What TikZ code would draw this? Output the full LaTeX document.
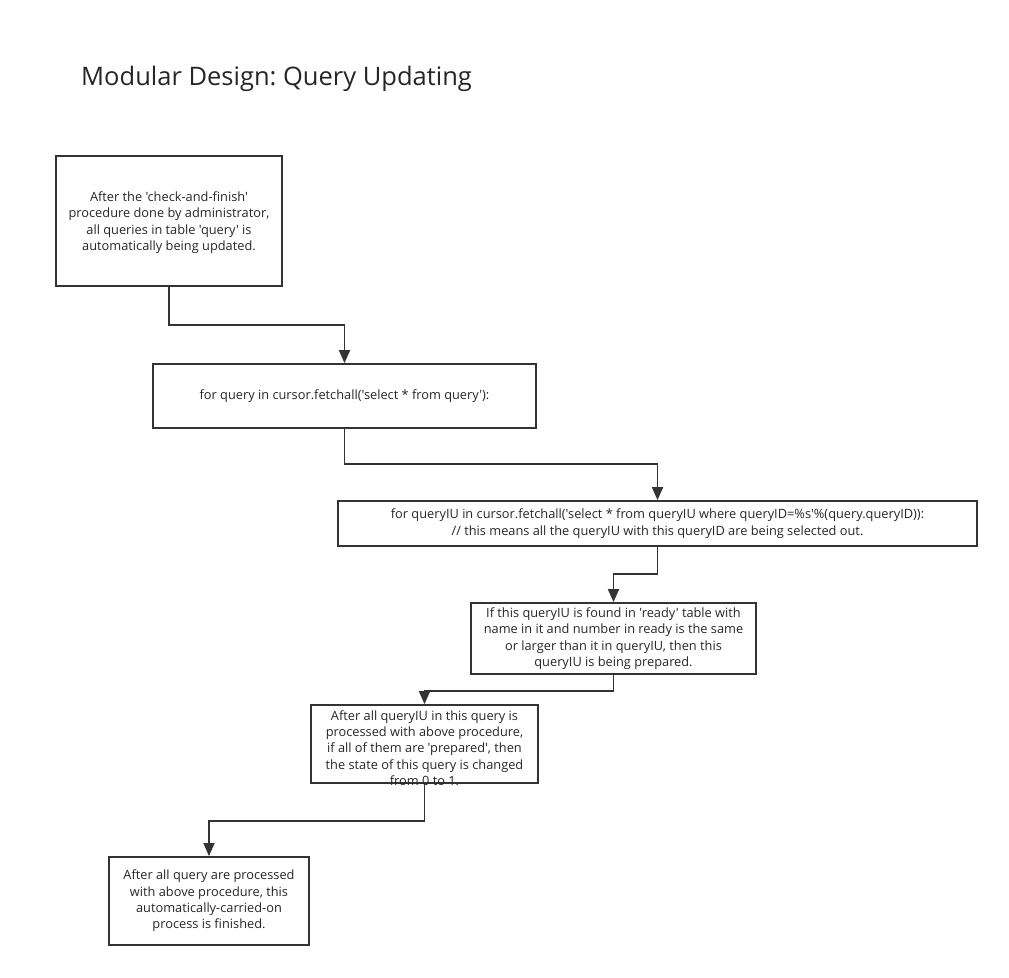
\documentclass[tikz,border=0pt]{standalone}
\usepackage{fontspec}
\setmainfont{Open Sans}[Ligatures=TeXOff]
\usetikzlibrary{arrows.meta}
\frenchspacing
\begin{document}
\begin{tikzpicture}[x=1pt,y=-1pt,
  box/.style={draw=black!80, line width=1.8pt, inner sep=0pt, align=center,
    font=\fontsize{12.8}{16.4}\selectfont, text=black!85},
  txt/.style={inner sep=0pt, align=center, font=\fontsize{12.8}{16.4}\selectfont, text=black!85},
  arr/.style={draw=black!80, line width=1.8pt, -{Triangle[length=13pt,width=11pt]}}]
\useasboundingbox (0,0) rectangle (1009,977);
\node[anchor=base west, inner sep=0pt, font=\fontsize{25.5}{30}\selectfont, text=black!85] (title) at (81,85) {Modular Design: Query Updating};
\node[box, minimum width=226pt, minimum height=130pt, text depth=-3pt] (a) at (169,221)
  {After the 'check-and-finish'\\procedure done by administrator,\\all queries in table 'query' is\\automatically being updated.};
\node[box, minimum width=383pt, minimum height=64pt] (b) at (344.5,396)
  {for query in cursor.fetchall('select * from query'):};
\node[box, minimum width=639pt, minimum height=45pt] (c) at (657.5,523.5)
  {for queryIU in cursor.fetchall('select * from queryIU where queryID=\%s'\%(query.queryID)):\\// this means all the queryIU with this queryID are being selected out.};
\node[box, minimum width=285pt, minimum height=71pt] (d) at (613.5,638.5)
  {If this queryIU is found in 'ready' table with\\name in it and number in ready is the same\\or larger than it in queryIU, then this\\queryIU is being prepared.};
\node[box, minimum width=227pt, minimum height=78pt] (e) at (424.5,744) {};
\node[txt] (et) at (424.5,748)
  {After all queryIU in this query is\\processed with above procedure,\\if all of them are 'prepared', then\\the state of this query is changed\\from 0 to 1.};
\node[box, minimum width=200pt, minimum height=88pt] (f) at (209,901)
  {After all query are processed\\with above procedure, this\\automatically-carried-on\\process is finished.};
\draw[arr] (a.south) -- ++(0,38) -| (b.north);
\draw[arr] (b.south) -- ++(0,35) -| (c.north);
\draw[arr] (c.south) -- ++(0,27) -| (d.north);
\draw[arr] (d.south) -- ++(0,16) -| (e.north);
\draw[arr] (e.south) -- ++(0,37) -| (f.north);
\end{tikzpicture}
\end{document}
